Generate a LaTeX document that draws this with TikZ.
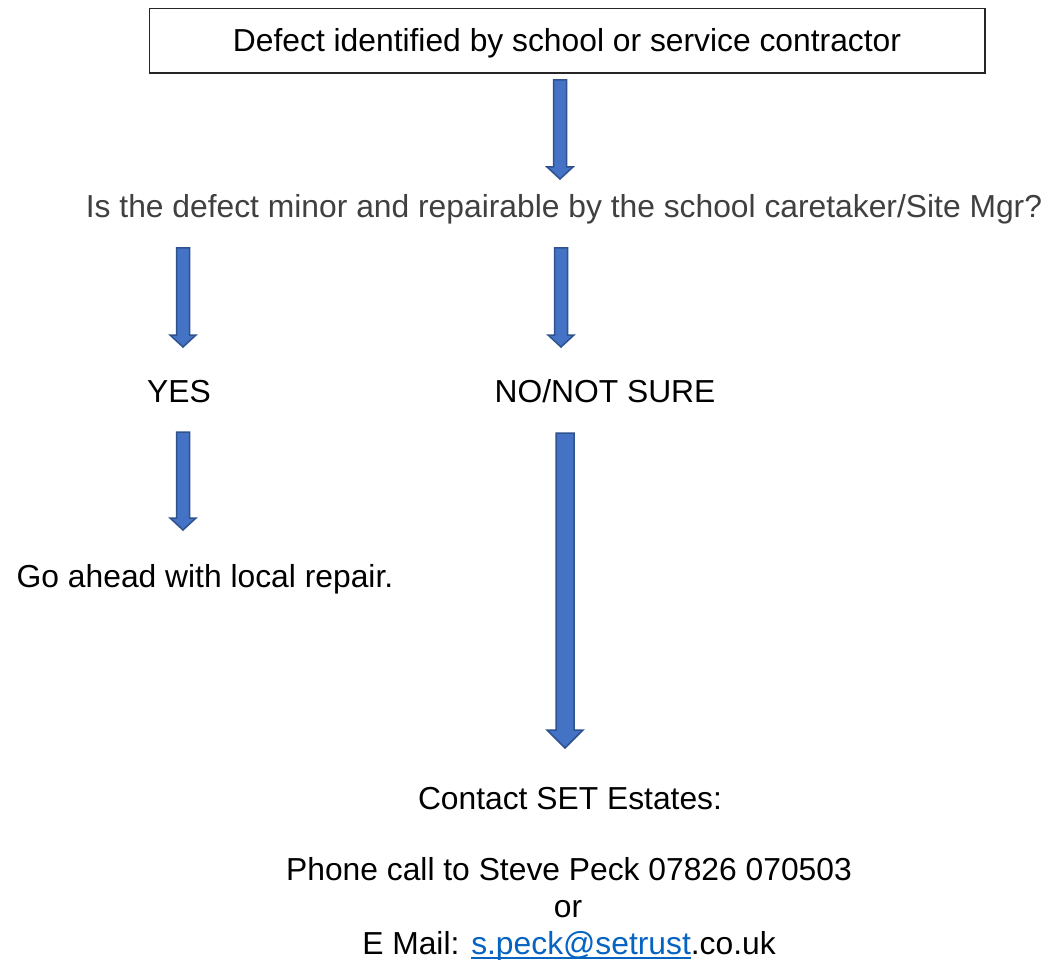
\documentclass[tikz,border=0pt]{standalone}
\usepackage{fontspec}
\setmainfont{Liberation Sans}
\usetikzlibrary{calc}
\definecolor{arrfill}{HTML}{4472C4}
\definecolor{arrline}{HTML}{2F528F}
\definecolor{qgray}{HTML}{404040}
\definecolor{linkblue}{HTML}{0563C1}
\newcommand\blockarr[5]{%
  \draw[barrow] let \p1=(#1), \p2=(#2) in
    (\x1-#3,\y1) -- (\x1+#3,\y1) -- (\x1+#3,\y2+#5) -- (\x1+#4,\y2+#5)
    -- (\x1,\y2) -- (\x1-#4,\y2+#5) -- (\x1-#3,\y2+#5) -- cycle;}
\newcommand\linkul[1]{\setbox0\hbox{#1}\rlap{\raisebox{-5pt}{\rule{\wd0}{2pt}}}\box0}
\begin{document}
\begin{tikzpicture}[x=1pt,y=-1pt,
  txt/.style={anchor=base,inner sep=0pt,font=\fontsize{31.8}{37}\selectfont,text=black},
  barrow/.style={fill=arrfill,draw=arrline,line width=1.5pt,line join=miter}]
\useasboundingbox (0,0) rectangle (1058,960);
\fill[white] (0,0) rectangle (1058,960);
% box
\draw[line width=1.3pt,draw=black!85] (149.5,8.5) rectangle (985,73);
\node[txt] (defect) at (567,52) {Defect identified by school or service contractor};
\node[txt,text=qgray] (question) at (564,218) {Is the defect minor and repairable by the school caretaker/Site Mgr?};
\node[txt] (yes) at (179,402) {YES};
\node[txt] (no) at (605,402) {NO/NOT SURE};
\node[txt] (go) at (205,587) {Go ahead with local repair.};
\node[txt] (contact) at (570,809) {Contact SET Estates:};
\node[txt] (phone) at (569,880) {Phone call to Steve Peck 07826 070503};
\node[txt] (or) at (568,917) {or};
\node[txt] (email) at (569,954) {E Mail: {\color{linkblue}\linkul{s.peck@setrust}}.co.uk};
% arrow end coordinates
\coordinate (a1t) at (560,80);  \coordinate (a1b) at (560,179);
\coordinate (a2t) at (183,248); \coordinate (a2b) at (183,347);
\coordinate (a3t) at (561,248); \coordinate (a3b) at (561,347);
\coordinate (a4t) at (183,432); \coordinate (a4b) at (183,530);
\coordinate (a5t) at (565,433); \coordinate (a5b) at (565,748);
\blockarr{a1t}{a1b}{6.5}{13}{12}
\blockarr{a2t}{a2b}{6.5}{13}{12}
\blockarr{a3t}{a3b}{6.5}{13}{12}
\blockarr{a4t}{a4b}{6.5}{13}{12}
\blockarr{a5t}{a5b}{9}{18}{18}
\end{tikzpicture}
\end{document}
